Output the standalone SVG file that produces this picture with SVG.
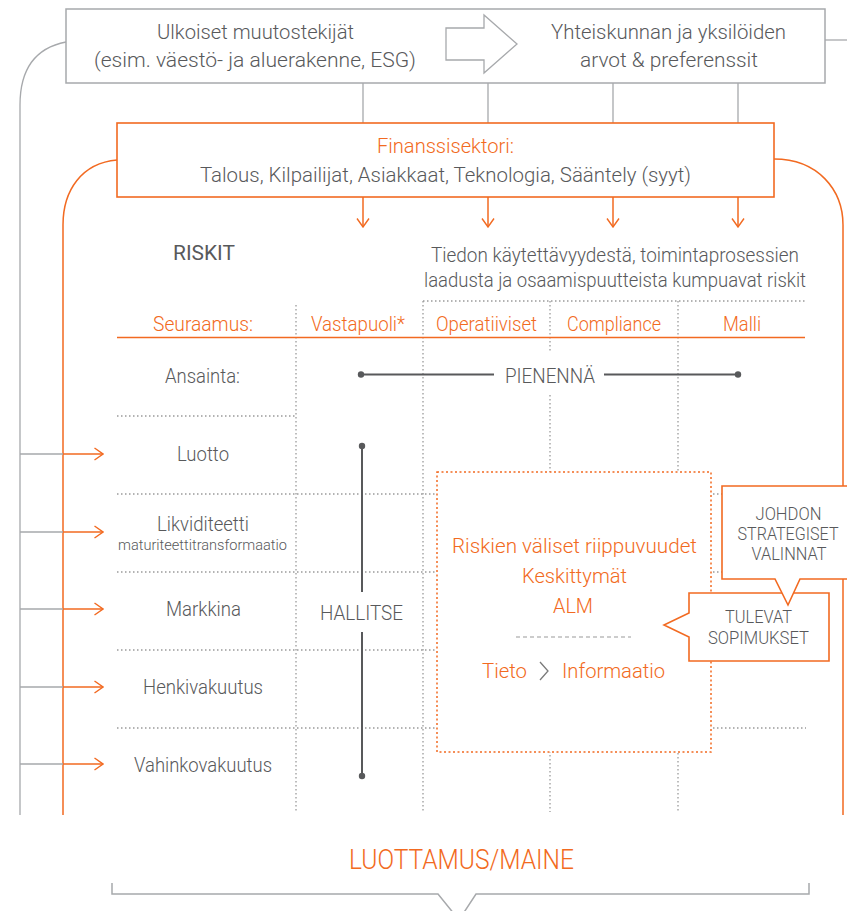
<svg xmlns="http://www.w3.org/2000/svg" width="847" height="911" viewBox="0 0 847 911">
<style>
text{font-family:Roboto,"Liberation Sans",sans-serif;font-weight:300;fill:#58595b;font-size:20px;text-anchor:middle}
.o{fill:#f26a21}
.s{font-size:14px}
.c{font-size:18px}
.big{font-size:21px}
.gl{fill:none;stroke:#a7a9ac;stroke-width:1.3}
.ol{fill:none;stroke:#f26a21;stroke-width:1.5}
.dot{fill:none;stroke:#9a9a9a;stroke-width:1.3;stroke-dasharray:1.5 2.5}
.sol{fill:none;stroke:#58595b;stroke-width:2}
</style>
<defs>
<marker id="chev" viewBox="0 0 10 14" refX="9.5" refY="7" markerWidth="10" markerHeight="14" markerUnits="userSpaceOnUse" orient="auto">
<path d="M1,1 L9.5,7 L1,13" fill="none" stroke="#f26a21" stroke-width="1.4"/>
</marker>
</defs>
<rect width="847" height="911" fill="#fff"/>

<g id="connectors">
<path class="gl" d="M66,42 C35,48 20,70 20,105 V815"/>
<path class="gl" d="M825,40 H847"/>
<path class="gl" d="M363,83 V123 M488,83 V123 M613,83 V123 M738,83 V123"/>
<path class="ol" d="M117,160 C82,163 63,190 63,225 V815"/>
<path class="ol" d="M774,159 C818,159 843,190 843,225 V815"/>
<path class="ol" d="M363,197 V227" marker-end="url(#chev)"/>
<path class="ol" d="M488,197 V227" marker-end="url(#chev)"/>
<path class="ol" d="M613,197 V227" marker-end="url(#chev)"/>
<path class="ol" d="M738,197 V227" marker-end="url(#chev)"/>
<g id="left-arrows">
<path class="gl" d="M20,454 H63 M20,532 H63 M20,609 H63 M20,687 H63 M20,764 H63"/>
<path class="ol" d="M63,454 H103" marker-end="url(#chev)"/>
<path class="ol" d="M63,532 H103" marker-end="url(#chev)"/>
<path class="ol" d="M63,609 H103" marker-end="url(#chev)"/>
<path class="ol" d="M63,687 H103" marker-end="url(#chev)"/>
<path class="ol" d="M63,764 H103" marker-end="url(#chev)"/>
</g>
</g>

<g id="grid">
<path class="dot" d="M423,301 H806"/>
<path class="dot" d="M296,305 V812 M423,301 V812 M550,301 V353 M550,395 V812 M678,301 V812"/>
<path class="dot" d="M117,416 H296"/>
<path class="dot" d="M117,494 H806 M117,572 H806 M117,650 H806 M117,728 H806"/>
<path d="M117,337.5 H805" stroke="#f26a21" stroke-width="1.6" fill="none"/>
</g>

<g id="top-box">
<rect x="66" y="9" width="759" height="74" fill="#fff" stroke="#a7a9ac" stroke-width="1.5"/>
<text x="255.5" y="39" textLength="197" lengthAdjust="spacingAndGlyphs">Ulkoiset muutostekijät</text>
<text x="255" y="67" textLength="322" lengthAdjust="spacingAndGlyphs">(esim. väestö- ja aluerakenne, ESG)</text>
<text x="668.5" y="39" textLength="235" lengthAdjust="spacingAndGlyphs">Yhteiskunnan ja yksilöiden</text>
<text x="669" y="67" textLength="178" lengthAdjust="spacingAndGlyphs">arvot &amp; preferenssit</text>
<path d="M446,28 H484 V15 L517,44 L484,73 V60 H446 Z" fill="#fff" stroke="#a7a9ac" stroke-width="1.3"/>
</g>

<g id="finanssisektori">
<rect x="117" y="123" width="657" height="74" fill="#fff" stroke="#f26a21" stroke-width="1.6"/>
<text class="o" x="445.5" y="153" textLength="137" lengthAdjust="spacingAndGlyphs">Finanssisektori:</text>
<text x="445.5" y="182" textLength="491" lengthAdjust="spacingAndGlyphs">Talous, Kilpailijat, Asiakkaat, Teknologia, Sääntely (syyt)</text>
</g>

<g id="riskit-header">
<text x="204" y="260" textLength="62" lengthAdjust="spacingAndGlyphs" style="font-weight:400">RISKIT</text>
<text x="615" y="262" textLength="368" lengthAdjust="spacingAndGlyphs">Tiedon käytettävyydestä, toimintaprosessien</text>
<text x="615" y="287" textLength="382" lengthAdjust="spacingAndGlyphs">laadusta ja osaamispuutteista kumpuavat riskit</text>
</g>

<g id="columns">
<text class="o" x="203" y="331" textLength="100" lengthAdjust="spacingAndGlyphs">Seuraamus:</text>
<text class="o" x="358" y="331" textLength="94" lengthAdjust="spacingAndGlyphs">Vastapuoli*</text>
<text class="o" x="486.5" y="331" textLength="101" lengthAdjust="spacingAndGlyphs">Operatiiviset</text>
<text class="o" x="614" y="331" textLength="94" lengthAdjust="spacingAndGlyphs">Compliance</text>
<text class="o" x="742" y="331" textLength="38" lengthAdjust="spacingAndGlyphs">Malli</text>
</g>

<g id="rows">
<text x="202.5" y="383" textLength="75" lengthAdjust="spacingAndGlyphs">Ansainta:</text>
<text x="203" y="461" textLength="52" lengthAdjust="spacingAndGlyphs">Luotto</text>
<text x="203" y="531" textLength="92" lengthAdjust="spacingAndGlyphs">Likviditeetti</text>
<text class="s" x="202.5" y="550" textLength="169" lengthAdjust="spacingAndGlyphs">maturiteettitransformaatio</text>
<text x="203.5" y="616" textLength="75" lengthAdjust="spacingAndGlyphs">Markkina</text>
<text x="203" y="694" textLength="120" lengthAdjust="spacingAndGlyphs">Henkivakuutus</text>
<text x="203" y="772" textLength="138" lengthAdjust="spacingAndGlyphs">Vahinkovakuutus</text>
</g>

<g id="pienenna">
<path class="sol" d="M361,374.5 H494 M604,374.5 H738"/>
<circle cx="361" cy="374.5" r="3.2" fill="#58595b"/>
<circle cx="738" cy="374.5" r="3.2" fill="#58595b"/>
<text x="550" y="383" textLength="90" lengthAdjust="spacingAndGlyphs">PIENENNÄ</text>
</g>

<g id="hallitse">
<path class="sol" d="M362,446 V592 M362,632 V776"/>
<circle cx="362" cy="446" r="3.2" fill="#58595b"/>
<circle cx="362" cy="776" r="3.2" fill="#58595b"/>
<text x="361.5" y="620" textLength="83" lengthAdjust="spacingAndGlyphs">HALLITSE</text>
</g>

<g id="riippuvuudet">
<rect x="437" y="472" width="274" height="280" fill="#fff" stroke="#f26a21" stroke-width="1.5" stroke-dasharray="2 2.5"/>
<text class="o big" x="574.5" y="553" textLength="245" lengthAdjust="spacingAndGlyphs">Riskien väliset riippuvuudet</text>
<text class="o big" x="574.5" y="583" textLength="105" lengthAdjust="spacingAndGlyphs">Keskittymät</text>
<text class="o big" x="573" y="613" textLength="40" lengthAdjust="spacingAndGlyphs">ALM</text>
<path d="M516,637 H631" stroke="#9a9a9a" stroke-width="1.2" stroke-dasharray="4 3" fill="none"/>
<text class="o big" x="504.5" y="678" textLength="45" lengthAdjust="spacingAndGlyphs">Tieto</text>
<path d="M540,662 L548,671 L540,680" fill="none" stroke="#7a7a7a" stroke-width="1.3"/>
<text class="o big" x="613.5" y="678" textLength="103" lengthAdjust="spacingAndGlyphs">Informaatio</text>
</g>

<g id="tulevat">
<path d="M689,593 H829 V661 H689 V637 L664,625 L689,613 Z" fill="#fff" stroke="#f26a21" stroke-width="1.6"/>
<text class="c" x="758.5" y="623" textLength="67" lengthAdjust="spacingAndGlyphs">TULEVAT</text>
<text class="c" x="758.5" y="644" textLength="101" lengthAdjust="spacingAndGlyphs">SOPIMUKSET</text>
</g>

<g id="johdon">
<path d="M722,486 H852 V579 H800 L788,605 L775,579 H722 Z" fill="#fff" stroke="#f26a21" stroke-width="1.6"/>
<text class="c" x="788.5" y="520" textLength="66" lengthAdjust="spacingAndGlyphs">JOHDON</text>
<text class="c" x="788" y="540" textLength="101" lengthAdjust="spacingAndGlyphs">STRATEGISET</text>
<text class="c" x="789" y="560" textLength="75" lengthAdjust="spacingAndGlyphs">VALINNAT</text>
</g>

<g id="luottamus">
<text class="o" x="461.5" y="869" style="font-size:27px" textLength="225" lengthAdjust="spacingAndGlyphs">LUOTTAMUS/MAINE</text>
<path d="M112,883 V894 H438 L459,920 L476,894 H809 V883" fill="none" stroke="#a7a9ac" stroke-width="1.5"/>
</g>
</svg>
